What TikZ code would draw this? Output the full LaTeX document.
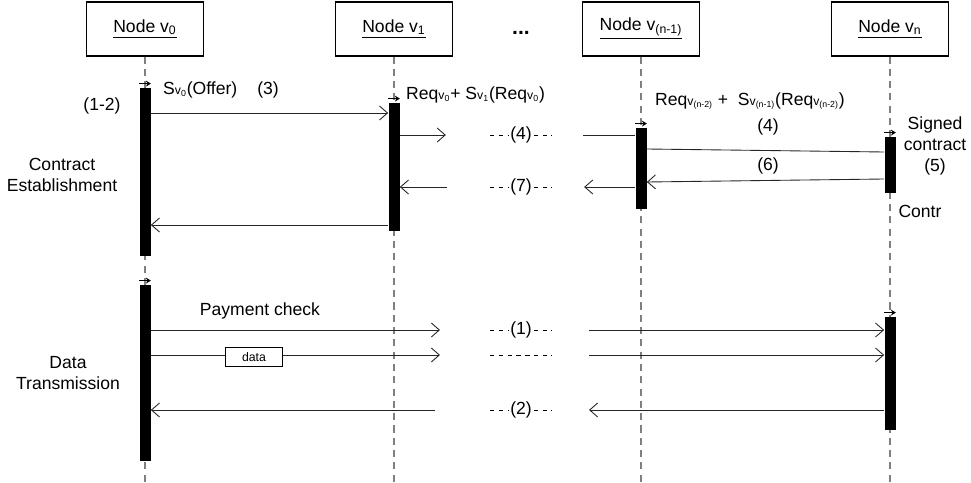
\documentclass[tikz,border=0pt]{standalone}
\usepackage{fontspec}
\setmainfont{Liberation Sans}
\usetikzlibrary{arrows.meta}
\newcommand{\sv}[1]{{\scriptsize v\textsubscript{#1}}}

\begin{document}
\begin{tikzpicture}[x=0.02cm, y=-0.02cm,
    head/.style={draw, line width=0.6pt, minimum width=2.34cm, minimum height=1.08cm},
    life/.style={draw=gray, line width=0.8pt, dash pattern=on 4pt off 3pt},
    bar/.style={fill=black, minimum width=0.22cm, inner sep=0pt, anchor=north},
    msg/.style={draw=black!85, line width=0.5pt, -{Straight Barb[length=1.6mm, width=2.8mm]}},
    plain/.style={draw=black!85, line width=0.5pt},
    startmark/.style={line width=0.6pt, -{Stealth[length=1mm, width=1.2mm]}},
    gapline/.style={dash pattern=on 2.5pt off 2.5pt, line width=0.5pt},
    gaplabel/.style={fill=white, inner sep=1pt}]
    \useasboundingbox (0,0) rectangle (971,483);

    % lifeline heads
    \node[head] (v0) at (145,29) {\underline{Node v\textsubscript{0}}};
    \node[head] (v1) at (394,29) {\underline{Node v\textsubscript{1}}};
    \node[head] (vn1) at (641,29) {\underline{Node v\textsubscript{(n-1)}}};
    \node[head] (vn) at (890,29) {\underline{Node v\textsubscript{n}}};
    \node[font=\large\bfseries] (dots) at (521,33) {...};

    % lifelines
    \draw[life] (v0.south) -- (v0.south |- 0,483);
    \draw[life] (v1.south) -- (v1.south |- 0,483);
    \draw[life] (vn1.south) -- (vn1.south |- 0,483);
    \draw[life] (vn.south) -- (vn.south |- 0,483);

    % activation bars
    \node[bar, minimum height=3.36cm] (b0a) at (145,88) {};
    \node[bar, minimum height=3.52cm] (b0b) at (145,285) {};
    \node[bar, minimum height=2.56cm] (b1) at (394,103) {};
    \node[bar, minimum height=1.62cm] (bn1) at (641,128) {};
    \node[bar, minimum height=1.12cm] (bna) at (890,137) {};
    \node[bar, minimum height=2.26cm] (bnb) at (890,317) {};
    \foreach \b in {b0a, b0b, b1, bn1, bna, bnb}
        \draw[startmark] ([yshift=2.5pt]\b.north west) -- ([yshift=2.5pt]\b.north east);

    % contract establishment
    \draw[msg] (b0a.east |- 0,113) -- (b1.west |- 0,113);
    \draw[msg] (b1.east |- 0,135) -- ++(46,0);
    \draw[gapline] (490,135) -- (552,135) node[midway, gaplabel] (g4) {(4)};
    \draw[plain] (583,135) -- (bn1.west |- 0,135);
    \draw[plain] (bn1.east |- 0,149) -- (bna.west |- 0,152);
    \draw[msg] (bna.west |- 0,179) -- (bn1.east |- 0,182);
    \draw[msg] (bn1.west |- 0,187) -- ++(-51,0);
    \draw[gapline] (490,187) -- (552,187) node[midway, gaplabel] (g7) {(7)};
    \draw[msg] (447,187) -- (b1.east |- 0,187);
    \draw[msg] (b1.west |- 0,225) -- (b0a.east |- 0,225);

    \node[anchor=west] (offer) at (157,90) {S\sv{0}(Offer)};
    \node (l3) at (268,90) {(3)};
    \node (l12) at (102,106) {(1-2)};
    \node[align=center] (ce) at (62,175) {Contract\\Establishment};
    \node[anchor=west] (req1) at (400,95) {Req\sv{0}+ S\sv{1}(Req\sv{0})};
    \node[anchor=west] (req2) at (649,101) {Req\sv{(n-2)} + \ S\sv{(n-1)}(Req\sv{(n-2)})};
    \node (l4) at (768,127) {(4)};
    \node (l6) at (768,166) {(6)};
    \node[align=center] (signed) at (935,146) {Signed\\contract\\(5)};
    \node (contr) at (920,211) {Contr};

    % data transmission
    \node[align=center] (dt) at (68,373) {Data\\Transmission};
    \node (pay) at (260,311) {Payment check};
    \draw[msg] (b0b.east |- 0,330) -- (440,330);
    \draw[msg] (b0b.east |- 0,355) -- (440,355);
    \node[draw, fill=white, font=\scriptsize, minimum width=1.14cm, minimum height=0.38cm, inner sep=0pt] (data) at (254,357) {data};
    \draw[gapline] (490,330) -- (552,330) node[midway, gaplabel] (g1) {(1)};
    \draw[gapline] (490,355) -- (552,355);
    \draw[gapline] (490,410) -- (552,410) node[midway, gaplabel] (g2) {(2)};
    \draw[msg] (589,330) -- (bnb.west |- 0,330);
    \draw[msg] (589,355) -- (bnb.west |- 0,355);
    \draw[msg] (bnb.west |- 0,410) -- (589,410);
    \draw[msg] (435,410) -- (b0b.east |- 0,410);
\end{tikzpicture}
\end{document}
